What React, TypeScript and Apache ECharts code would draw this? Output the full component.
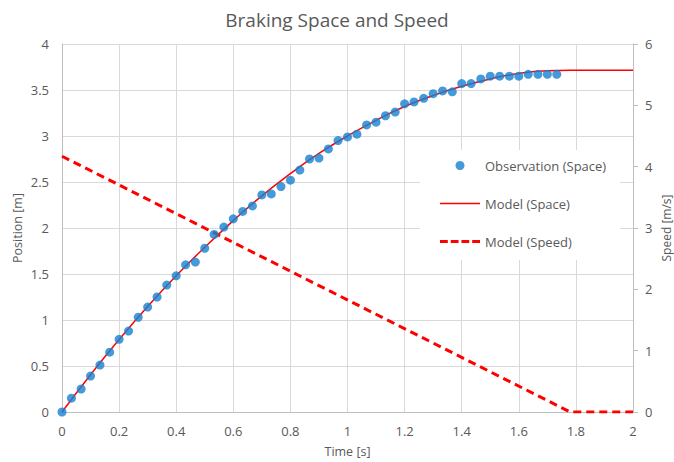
import React, { useEffect, useRef } from "react";
import * as echarts from "echarts";

const obsTime: number[] = [
  0, 0.033, 0.067, 0.1, 0.133, 0.167, 0.2, 0.233, 0.267, 0.3,
  0.333, 0.367, 0.4, 0.433, 0.467, 0.5, 0.533, 0.567, 0.6, 0.633,
  0.667, 0.7, 0.733, 0.767, 0.8, 0.833, 0.867, 0.9, 0.933, 0.967,
  1.0, 1.033, 1.067, 1.1, 1.133, 1.167, 1.2, 1.233, 1.267, 1.3,
  1.333, 1.367, 1.4, 1.433, 1.467, 1.5, 1.533, 1.567, 1.6, 1.633,
  1.667, 1.7, 1.733,
];
const obsSpace: number[] = [
  0, 0.15, 0.25, 0.39, 0.51, 0.65, 0.79, 0.88, 1.03, 1.14,
  1.25, 1.38, 1.48, 1.6, 1.63, 1.78, 1.93, 2.01, 2.1, 2.18,
  2.24, 2.36, 2.37, 2.45, 2.52, 2.63, 2.75, 2.76, 2.86, 2.95,
  2.99, 3.02, 3.12, 3.15, 3.22, 3.26, 3.35, 3.37, 3.41, 3.46,
  3.49, 3.48, 3.57, 3.57, 3.62, 3.65, 3.65, 3.65, 3.65, 3.67,
  3.67, 3.67, 3.67,
];

const modelTime: number[] = [
  0, 0.1, 0.2, 0.3, 0.4, 0.5, 0.6, 0.7, 0.8, 0.9, 1.0,
  1.1, 1.2, 1.3, 1.4, 1.5, 1.6, 1.7, 1.78, 2.0,
];
const modelSpace: number[] = [
  0, 0.405, 0.787, 1.146, 1.481, 1.79, 2.08, 2.35, 2.59, 2.81, 3.0,
  3.17, 3.32, 3.44, 3.54, 3.62, 3.68, 3.71, 3.715, 3.715,
];

const speedTime: number[] = [0, 1.78, 2.0];
const speedValue: number[] = [4.17, 0, 0];

const FONT = "Open Sans";
const GREY = "#595959";

const SOLID_ICON = "path://M0,0H40V1.5H0Z";
const DASH_ICON = "path://M0,0H8V3H0Z M11,0H19V3H11Z M22,0H30V3H22Z M33,0H41V3H33Z";

export default function App() {
  const ref = useRef<HTMLDivElement>(null);
  useEffect(() => {
    if (!ref.current) return;
    const chart = echarts.init(ref.current, undefined, { renderer: "svg" });
    chart.setOption({
      animation: false,
      backgroundColor: "#fff",
      textStyle: { fontFamily: FONT, color: GREY },
      title: {
        text: "Braking Space and Speed",
        left: "center",
        top: 5,
        textStyle: { fontFamily: FONT, fontSize: 19, fontWeight: "normal", color: GREY },
      },
      grid: { left: 62, right: 41, top: 44, bottom: 50, containLabel: false, outerBoundsMode: "none" },
      legend: {
        orient: "vertical",
        left: 420,
        top: 150,
        backgroundColor: "#fff",
        padding: [9, 14, 12, 20],
        itemGap: 25,
        itemWidth: 40,
        itemHeight: 9,
        textStyle: { fontFamily: FONT, fontSize: 13, color: GREY },
        data: [
          { name: "Observation (Space)", icon: "circle" },
          { name: "Model (Space)", icon: SOLID_ICON },
          { name: "Model (Speed)", icon: DASH_ICON },
        ],
      },
      xAxis: {
        type: "value",
        min: 0,
        max: 2,
        interval: 0.2,
        name: "Time [s]",
        nameLocation: "middle",
        nameGap: 33,
        nameMoveOverlap: false,
        nameTextStyle: { fontFamily: FONT, fontSize: 12.5, color: GREY },
        axisLine: { show: true, lineStyle: { color: "#bfbfbf" } },
        axisTick: { show: false },
        axisLabel: { color: GREY, fontSize: 13, margin: 12 },
        splitLine: { show: true, lineStyle: { color: "#d9d9d9" } },
      },
      yAxis: [
        {
          type: "value",
          min: 0,
          max: 4,
          interval: 0.5,
          name: "Position [m]",
          nameLocation: "middle",
          nameGap: 38,
          nameRotate: 90,
          nameMoveOverlap: false,
          nameTextStyle: { fontFamily: FONT, fontSize: 12.5, color: GREY },
          axisLine: { show: true, lineStyle: { color: "#bfbfbf" } },
          axisTick: { show: false },
          axisLabel: { color: GREY, fontSize: 13, margin: 13 },
          splitLine: { show: true, lineStyle: { color: "#d9d9d9" } },
        },
        {
          type: "value",
          min: 0,
          max: 6,
          interval: 1,
          name: "Speed [m/s]",
          nameLocation: "middle",
          nameGap: 26,
          nameRotate: 90,
          nameMoveOverlap: false,
          nameTextStyle: { fontFamily: FONT, fontSize: 12, color: GREY, lineHeight: 14 },
          axisLine: { show: true, lineStyle: { color: "#bfbfbf" } },
          axisTick: { show: true, length: 5, lineStyle: { color: "#bfbfbf" } },
          axisLabel: { color: GREY, fontSize: 13, margin: 12 },
          splitLine: { show: false },
        },
      ],
      series: [
        {
          name: "Observation (Space)",
          type: "scatter",
          yAxisIndex: 0,
          symbol: "circle",
          symbolSize: 9,
          itemStyle: { color: "#1782d0" },
          data: obsTime.map((t, i) => [t, obsSpace[i]]),
          z: 3,
        },
        {
          name: "Model (Space)",
          type: "line",
          yAxisIndex: 0,
          smooth: true,
          showSymbol: false,
          symbol: "none",
          lineStyle: { color: "#ff0000", width: 1.5 },
          itemStyle: { color: "#ff0000" },
          data: modelTime.map((t, i) => [t, modelSpace[i]]),
          z: 2,
        },
        {
          name: "Model (Speed)",
          type: "line",
          yAxisIndex: 1,
          showSymbol: false,
          symbol: "none",
          lineStyle: { color: "#ff0000", width: 3, type: [8, 5] },
          itemStyle: { color: "#ff0000" },
          data: speedTime.map((t, i) => [t, speedValue[i]]),
          z: 2,
        },
      ],
    });
    return () => chart.dispose();
  }, []);
  return <div ref={ref} style={{ width: 674, height: 462, position: "absolute", left: 0, top: 0 }} />;
}
